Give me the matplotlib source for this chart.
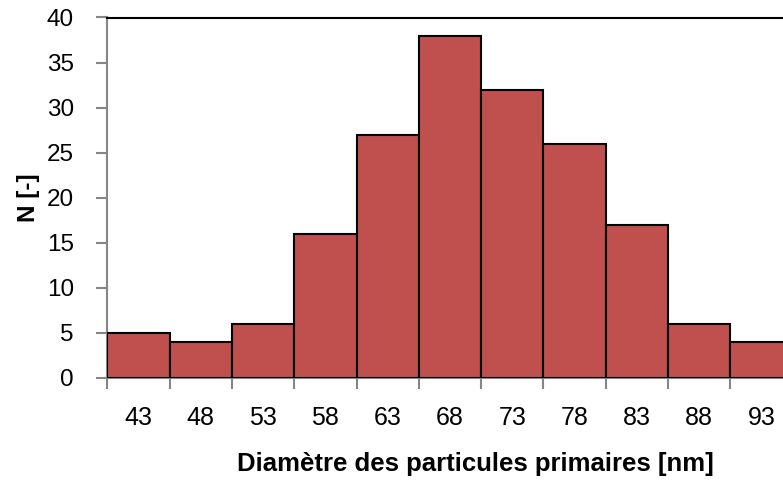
import matplotlib
matplotlib.use("Agg")
import matplotlib.pyplot as plt

categories = ["43", "48", "53", "58", "63", "68", "73", "78", "83", "88", "93"]
counts = [5, 4, 6, 16, 27, 38, 32, 26, 17, 6, 4]
yticks = [0, 5, 10, 15, 20, 25, 30, 35, 40]

plt.rcParams['font.family'] = ['Liberation Sans', 'DejaVu Sans']

W, H = 783, 483
fig = plt.figure(figsize=(W / 100, H / 100), dpi=100)
ax = fig.add_axes([107.3 / W, (H - 378) / H, 685.3 / W, 360.5 / H])

x = list(range(len(categories)))
ax.bar(x, counts, width=1.0, color="#C0504D", edgecolor="black", linewidth=1.5, zorder=3)
ax.set_xlim(-0.5, len(categories) - 0.5)
ax.set_ylim(0, 40)
ax.set_yticks(yticks)
ax.set_yticklabels([str(v) for v in yticks])

# x ticks at the bar boundaries, labels at centers
ax.set_xticks([i - 0.5 for i in range(len(categories) + 1)])
ax.set_xticklabels([])
ax.set_xticks(x, minor=True)
ax.set_xticklabels(categories, minor=True)
ax.tick_params(axis='x', which='major', direction='out', length=8, width=1.5, color='#868686')
ax.tick_params(axis='x', which='minor', length=0, pad=20, labelsize=18)
ax.tick_params(axis='y', direction='out', length=8, width=1.5, color='#868686', pad=16, labelsize=17.5)

for s in ['left', 'bottom']:
    ax.spines[s].set_color('#868686')
    ax.spines[s].set_linewidth(1.5)
ax.spines['top'].set_color('black')
ax.spines['top'].set_linewidth(1.5)
ax.spines['right'].set_color('black')
ax.spines['right'].set_linewidth(1.5)

fig.text(475 / W, 12 / H, "Diamètre des particules primaires [nm]", ha='center', va='baseline',
         fontsize=18.5, fontweight='bold')
fig.text(28 / W, 1 - 197.5 / H, "N [-]", ha='center', va='center', rotation=90,
         fontsize=17.5, fontweight='bold')

fig.savefig("out.png", dpi=100)
